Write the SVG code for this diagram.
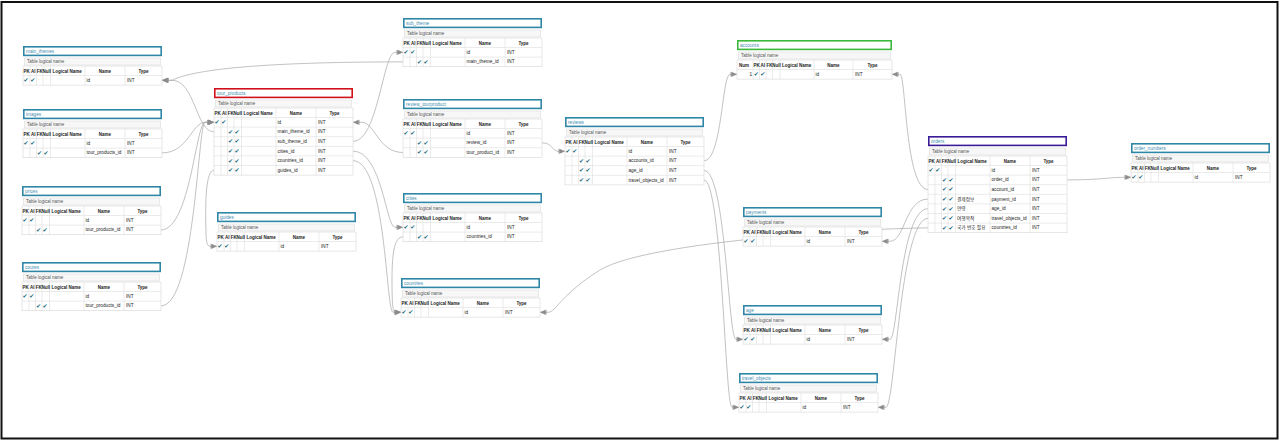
<svg xmlns="http://www.w3.org/2000/svg" width="1280" height="441" viewBox="0 0 1280 441">
<defs>
<style>
.tt{fill:#fff;stroke:#2f86a6;stroke-width:1.6}
.red{stroke:#d0111b}.grn{stroke:#3cb83c}.pur{stroke:#3a1a96}
.ttx{font-family:"Liberation Sans",Arial,sans-serif;font-size:4.7px;fill:#3f8db0}
.lb{fill:#f7f7f7;stroke:#dcdcdc;stroke-width:.6}
.lbx{font-family:"Liberation Sans",Arial,sans-serif;font-size:4.5px;fill:#555}
.bd{fill:#fff;stroke:#d6d6d6;stroke-width:.6}
.gl{fill:none;stroke:#dedede;stroke-width:.6}
.hd{font-family:"Liberation Sans",Arial,sans-serif;font-size:4.5px;font-weight:bold;fill:#222}
.c{font-family:"Liberation Sans","Noto Sans CJK KR",sans-serif;font-size:4.7px;fill:#222}
.ck{font-family:"DejaVu Sans",sans-serif;font-size:6px;fill:#1d6b80}
.cn{fill:none;stroke:#a8a8a8;stroke-width:.7}
</style>
<marker id="pk" viewBox="-8 -4 10 8" refX="0" refY="0" markerWidth="10" markerHeight="8" orient="auto" markerUnits="userSpaceOnUse">
<path d="M-6.2,-2.4V2.4M-5.4,-2.1L-0.6,0L-5.4,2.1Z" fill="#8a8a8a" stroke="#8a8a8a" stroke-width=".6"/>
</marker>
</defs>
<rect x="1.5" y="2" width="1276" height="436.5" fill="#fff" stroke="#111" stroke-width="2"/>

<g id="connectors">
<path class="cn" marker-end="url(#pk)" d="M403,61.9C300,61.9 200,66 172,80.3L162,80.3"/>
<path class="cn" marker-end="url(#pk)" d="M214,131.9C196,131.9 195,80.3 172,80.3L162,80.3"/>
<path class="cn" marker-end="url(#pk)" d="M162,152.9C188,152.9 192,122.3 205,122.3L214,122.3"/>
<path class="cn" marker-end="url(#pk)" d="M161,229.9C190,229.9 196,122.3 205,122.3L214,122.3"/>
<path class="cn" marker-end="url(#pk)" d="M161,305.9C195,305.9 198,122.3 205,122.3L214,122.3"/>
<path class="cn" marker-end="url(#pk)" d="M214,170.3C206,170.3 205,200 206,232C206,244 208,246.3 210,246.3L217,246.3"/>
<path class="cn" marker-end="url(#pk)" d="M353,141.5C378,141.5 383,52.3 395,52.3L403,52.3"/>
<path class="cn" marker-end="url(#pk)" d="M403,152.5C378,152.5 375,122.3 362,122.3L353,122.3"/>
<path class="cn" marker-end="url(#pk)" d="M353,151.1C382,151.1 386,227.3 395,227.3L403,227.3"/>
<path class="cn" marker-end="url(#pk)" d="M353,160.7C386,160.7 386,312.3 393,312.3L401,312.3"/>
<path class="cn" marker-end="url(#pk)" d="M403,236.9C395,236.9 392,250 392,280C392,305 393,312.3 395,312.3L401,312.3"/>
<path class="cn" marker-end="url(#pk)" d="M542,142.9C553,142.9 552,151.3 558,151.3L565,151.3"/>
<path class="cn" marker-end="url(#pk)" d="M704,160.9C722,160.9 722,74.3 730,74.3L737,74.3"/>
<path class="cn" marker-end="url(#pk)" d="M704,170.5C726,170.5 728,339.3 736,339.3L743,339.3"/>
<path class="cn" marker-end="url(#pk)" d="M704,180.1C722,180.1 725,407.3 732,407.3L739,407.3"/>
<path class="cn" marker-end="url(#pk)" d="M928,189.5C905,189.5 906,74.3 900,74.3L892,74.3"/>
<path class="cn" marker-end="url(#pk)" d="M928,199.1C905,199.1 905,241.3 890,241.3L882,241.3"/>
<path class="cn" marker-end="url(#pk)" d="M928,208.7C900,208.7 898,339.3 890,339.3L882,339.3"/>
<path class="cn" marker-end="url(#pk)" d="M928,218.3C900,218.3 895,407.3 886,407.3L878,407.3"/>
<path class="cn" marker-end="url(#pk)" d="M928,227.9C880,227.9 650,240 600,270C560,295 556,312.3 548,312.3L540,312.3"/>
<path class="cn" marker-end="url(#pk)" d="M1067,179.9C1100,179.9 1110,177.3 1124,177.3L1131,177.3"/>
</g>

<g id="main_themes" transform="translate(23,46)">
<rect class="tt" x="0.8" y="0.8" width="137.4" height="8.6"/><text class="ttx" x="3" y="6.8">main_themes</text>
<rect class="lb" x="1.5" y="12" width="136" height="7"/><text class="lbx" x="4" y="17">Table logical name</text>
<rect class="bd" x="0" y="20" width="139" height="19.1"/>
<path class="gl" d="M7 20V39.1M13.5 20V39.1M20 20V39.1M27.5 20V39.1M62 20V39.1M102 20V39.1M0 29.5H139"/>
<text class="hd" x="0.4" y="26.6">PK</text><text class="hd" x="7.9" y="26.6">AI</text><text class="hd" x="13.8" y="26.6">FK</text><text class="hd" x="19.6" y="26.6">Null</text><text class="hd" x="29.5" y="26.6">Logical Name</text><text class="hd" x="82" y="26.6" text-anchor="middle">Name</text><text class="hd" x="120.5" y="26.6" text-anchor="middle">Type</text>
<text class="ck" x="0.6" y="36.2">✔</text><text class="ck" x="7.3" y="36.2">✔</text><text class="c" x="63.5" y="35.8">id</text><text class="c" x="104" y="35.8">INT</text>
</g>

<g id="images" transform="translate(23,109)">
<rect class="tt" x="0.8" y="0.8" width="137.4" height="8.6"/><text class="ttx" x="3" y="6.8">images</text>
<rect class="lb" x="1.5" y="12" width="136" height="7"/><text class="lbx" x="4" y="17">Table logical name</text>
<rect class="bd" x="0" y="20" width="139" height="28.7"/>
<path class="gl" d="M7 20V48.7M13.5 20V48.7M20 20V48.7M27.5 20V48.7M62 20V48.7M102 20V48.7M0 29.5H139M0 39.1H139"/>
<text class="hd" x="0.4" y="26.6">PK</text><text class="hd" x="7.9" y="26.6">AI</text><text class="hd" x="13.8" y="26.6">FK</text><text class="hd" x="19.6" y="26.6">Null</text><text class="hd" x="29.5" y="26.6">Logical Name</text><text class="hd" x="82" y="26.6" text-anchor="middle">Name</text><text class="hd" x="120.5" y="26.6" text-anchor="middle">Type</text>
<text class="ck" x="0.6" y="36.2">✔</text><text class="ck" x="7.3" y="36.2">✔</text><text class="c" x="63.5" y="35.8">id</text><text class="c" x="104" y="35.8">INT</text>
<text class="ck" x="14" y="45.8">✔</text><text class="ck" x="20.6" y="45.8">✔</text><text class="c" x="63.5" y="45.4">tour_products_id</text><text class="c" x="104" y="45.4">INT</text>
</g>

<g id="prices" transform="translate(22,186)">
<rect class="tt" x="0.8" y="0.8" width="137.4" height="8.6"/><text class="ttx" x="3" y="6.8">prices</text>
<rect class="lb" x="1.5" y="12" width="136" height="7"/><text class="lbx" x="4" y="17">Table logical name</text>
<rect class="bd" x="0" y="20" width="139" height="28.7"/>
<path class="gl" d="M7 20V48.7M13.5 20V48.7M20 20V48.7M27.5 20V48.7M62 20V48.7M102 20V48.7M0 29.5H139M0 39.1H139"/>
<text class="hd" x="0.4" y="26.6">PK</text><text class="hd" x="7.9" y="26.6">AI</text><text class="hd" x="13.8" y="26.6">FK</text><text class="hd" x="19.6" y="26.6">Null</text><text class="hd" x="29.5" y="26.6">Logical Name</text><text class="hd" x="82" y="26.6" text-anchor="middle">Name</text><text class="hd" x="120.5" y="26.6" text-anchor="middle">Type</text>
<text class="ck" x="0.6" y="36.2">✔</text><text class="ck" x="7.3" y="36.2">✔</text><text class="c" x="63.5" y="35.8">id</text><text class="c" x="104" y="35.8">INT</text>
<text class="ck" x="14" y="45.8">✔</text><text class="ck" x="20.6" y="45.8">✔</text><text class="c" x="63.5" y="45.4">tour_products_id</text><text class="c" x="104" y="45.4">INT</text>
</g>

<g id="coures" transform="translate(22,262)">
<rect class="tt" x="0.8" y="0.8" width="137.4" height="8.6"/><text class="ttx" x="3" y="6.8">coures</text>
<rect class="lb" x="1.5" y="12" width="136" height="7"/><text class="lbx" x="4" y="17">Table logical name</text>
<rect class="bd" x="0" y="20" width="139" height="28.7"/>
<path class="gl" d="M7 20V48.7M13.5 20V48.7M20 20V48.7M27.5 20V48.7M62 20V48.7M102 20V48.7M0 29.5H139M0 39.1H139"/>
<text class="hd" x="0.4" y="26.6">PK</text><text class="hd" x="7.9" y="26.6">AI</text><text class="hd" x="13.8" y="26.6">FK</text><text class="hd" x="19.6" y="26.6">Null</text><text class="hd" x="29.5" y="26.6">Logical Name</text><text class="hd" x="82" y="26.6" text-anchor="middle">Name</text><text class="hd" x="120.5" y="26.6" text-anchor="middle">Type</text>
<text class="ck" x="0.6" y="36.2">✔</text><text class="ck" x="7.3" y="36.2">✔</text><text class="c" x="63.5" y="35.8">id</text><text class="c" x="104" y="35.8">INT</text>
<text class="ck" x="14" y="45.8">✔</text><text class="ck" x="20.6" y="45.8">✔</text><text class="c" x="63.5" y="45.4">tour_products_id</text><text class="c" x="104" y="45.4">INT</text>
</g>

<g id="tour_products" transform="translate(214,88)">
<rect class="tt red" x="0.8" y="0.8" width="137.4" height="8.6"/><text class="ttx" x="3" y="6.8">tour_products</text>
<rect class="lb" x="1.5" y="12" width="136" height="7"/><text class="lbx" x="4" y="17">Table logical name</text>
<rect class="bd" x="0" y="20" width="139" height="67.1"/>
<path class="gl" d="M7 20V87.1M13.5 20V87.1M20 20V87.1M27.5 20V87.1M62 20V87.1M102 20V87.1M0 29.5H139M0 39.1H139M0 48.7H139M0 58.3H139M0 67.9H139M0 77.5H139"/>
<text class="hd" x="0.4" y="26.6">PK</text><text class="hd" x="7.9" y="26.6">AI</text><text class="hd" x="13.8" y="26.6">FK</text><text class="hd" x="19.6" y="26.6">Null</text><text class="hd" x="29.5" y="26.6">Logical Name</text><text class="hd" x="82" y="26.6" text-anchor="middle">Name</text><text class="hd" x="120.5" y="26.6" text-anchor="middle">Type</text>
<text class="ck" x="0.6" y="36.2">✔</text><text class="ck" x="7.3" y="36.2">✔</text><text class="c" x="63.5" y="35.8">id</text><text class="c" x="104" y="35.8">INT</text>
<text class="ck" x="14" y="45.8">✔</text><text class="ck" x="20.6" y="45.8">✔</text><text class="c" x="63.5" y="45.4">main_theme_id</text><text class="c" x="104" y="45.4">INT</text>
<text class="ck" x="14" y="55.4">✔</text><text class="ck" x="20.6" y="55.4">✔</text><text class="c" x="63.5" y="55">sub_theme_id</text><text class="c" x="104" y="55">INT</text>
<text class="ck" x="14" y="65">✔</text><text class="ck" x="20.6" y="65">✔</text><text class="c" x="63.5" y="64.6">cities_id</text><text class="c" x="104" y="64.6">INT</text>
<text class="ck" x="14" y="74.6">✔</text><text class="ck" x="20.6" y="74.6">✔</text><text class="c" x="63.5" y="74.2">countries_id</text><text class="c" x="104" y="74.2">INT</text>
<text class="ck" x="14" y="84.2">✔</text><text class="ck" x="20.6" y="84.2">✔</text><text class="c" x="63.5" y="83.8">guides_id</text><text class="c" x="104" y="83.8">INT</text>
</g>

<g id="guides" transform="translate(217,212)">
<rect class="tt" x="0.8" y="0.8" width="137.4" height="8.6"/><text class="ttx" x="3" y="6.8">guides</text>
<rect class="lb" x="1.5" y="12" width="136" height="7"/><text class="lbx" x="4" y="17">Table logical name</text>
<rect class="bd" x="0" y="20" width="139" height="19.1"/>
<path class="gl" d="M7 20V39.1M13.5 20V39.1M20 20V39.1M27.5 20V39.1M62 20V39.1M102 20V39.1M0 29.5H139"/>
<text class="hd" x="0.4" y="26.6">PK</text><text class="hd" x="7.9" y="26.6">AI</text><text class="hd" x="13.8" y="26.6">FK</text><text class="hd" x="19.6" y="26.6">Null</text><text class="hd" x="29.5" y="26.6">Logical Name</text><text class="hd" x="82" y="26.6" text-anchor="middle">Name</text><text class="hd" x="120.5" y="26.6" text-anchor="middle">Type</text>
<text class="ck" x="0.6" y="36.2">✔</text><text class="ck" x="7.3" y="36.2">✔</text><text class="c" x="63.5" y="35.8">id</text><text class="c" x="104" y="35.8">INT</text>
</g>

<g id="sub_theme" transform="translate(403,18)">
<rect class="tt" x="0.8" y="0.8" width="137.4" height="8.6"/><text class="ttx" x="3" y="6.8">sub_theme</text>
<rect class="lb" x="1.5" y="12" width="136" height="7"/><text class="lbx" x="4" y="17">Table logical name</text>
<rect class="bd" x="0" y="20" width="139" height="28.7"/>
<path class="gl" d="M7 20V48.7M13.5 20V48.7M20 20V48.7M27.5 20V48.7M62 20V48.7M102 20V48.7M0 29.5H139M0 39.1H139"/>
<text class="hd" x="0.4" y="26.6">PK</text><text class="hd" x="7.9" y="26.6">AI</text><text class="hd" x="13.8" y="26.6">FK</text><text class="hd" x="19.6" y="26.6">Null</text><text class="hd" x="29.5" y="26.6">Logical Name</text><text class="hd" x="82" y="26.6" text-anchor="middle">Name</text><text class="hd" x="120.5" y="26.6" text-anchor="middle">Type</text>
<text class="ck" x="0.6" y="36.2">✔</text><text class="ck" x="7.3" y="36.2">✔</text><text class="c" x="63.5" y="35.8">id</text><text class="c" x="104" y="35.8">INT</text>
<text class="ck" x="14" y="45.8">✔</text><text class="ck" x="20.6" y="45.8">✔</text><text class="c" x="63.5" y="45.4">main_theme_id</text><text class="c" x="104" y="45.4">INT</text>
</g>

<g id="review_tourproduct" transform="translate(403,99)">
<rect class="tt" x="0.8" y="0.8" width="137.4" height="8.6"/><text class="ttx" x="3" y="6.8">review_tourproduct</text>
<rect class="lb" x="1.5" y="12" width="136" height="7"/><text class="lbx" x="4" y="17">Table logical name</text>
<rect class="bd" x="0" y="20" width="139" height="38.3"/>
<path class="gl" d="M7 20V58.3M13.5 20V58.3M20 20V58.3M27.5 20V58.3M62 20V58.3M102 20V58.3M0 29.5H139M0 39.1H139M0 48.7H139"/>
<text class="hd" x="0.4" y="26.6">PK</text><text class="hd" x="7.9" y="26.6">AI</text><text class="hd" x="13.8" y="26.6">FK</text><text class="hd" x="19.6" y="26.6">Null</text><text class="hd" x="29.5" y="26.6">Logical Name</text><text class="hd" x="82" y="26.6" text-anchor="middle">Name</text><text class="hd" x="120.5" y="26.6" text-anchor="middle">Type</text>
<text class="ck" x="0.6" y="36.2">✔</text><text class="ck" x="7.3" y="36.2">✔</text><text class="c" x="63.5" y="35.8">id</text><text class="c" x="104" y="35.8">INT</text>
<text class="ck" x="14" y="45.8">✔</text><text class="ck" x="20.6" y="45.8">✔</text><text class="c" x="63.5" y="45.4">review_id</text><text class="c" x="104" y="45.4">INT</text>
<text class="ck" x="14" y="55.4">✔</text><text class="ck" x="20.6" y="55.4">✔</text><text class="c" x="63.5" y="55">tour_product_id</text><text class="c" x="104" y="55">INT</text>
</g>

<g id="cities" transform="translate(403,193)">
<rect class="tt" x="0.8" y="0.8" width="137.4" height="8.6"/><text class="ttx" x="3" y="6.8">cities</text>
<rect class="lb" x="1.5" y="12" width="136" height="7"/><text class="lbx" x="4" y="17">Table logical name</text>
<rect class="bd" x="0" y="20" width="139" height="28.7"/>
<path class="gl" d="M7 20V48.7M13.5 20V48.7M20 20V48.7M27.5 20V48.7M62 20V48.7M102 20V48.7M0 29.5H139M0 39.1H139"/>
<text class="hd" x="0.4" y="26.6">PK</text><text class="hd" x="7.9" y="26.6">AI</text><text class="hd" x="13.8" y="26.6">FK</text><text class="hd" x="19.6" y="26.6">Null</text><text class="hd" x="29.5" y="26.6">Logical Name</text><text class="hd" x="82" y="26.6" text-anchor="middle">Name</text><text class="hd" x="120.5" y="26.6" text-anchor="middle">Type</text>
<text class="ck" x="0.6" y="36.2">✔</text><text class="ck" x="7.3" y="36.2">✔</text><text class="c" x="63.5" y="35.8">id</text><text class="c" x="104" y="35.8">INT</text>
<text class="ck" x="14" y="45.8">✔</text><text class="ck" x="20.6" y="45.8">✔</text><text class="c" x="63.5" y="45.4">countries_id</text><text class="c" x="104" y="45.4">INT</text>
</g>

<g id="countries" transform="translate(401,278)">
<rect class="tt" x="0.8" y="0.8" width="137.4" height="8.6"/><text class="ttx" x="3" y="6.8">countries</text>
<rect class="lb" x="1.5" y="12" width="136" height="7"/><text class="lbx" x="4" y="17">Table logical name</text>
<rect class="bd" x="0" y="20" width="139" height="19.1"/>
<path class="gl" d="M7 20V39.1M13.5 20V39.1M20 20V39.1M27.5 20V39.1M62 20V39.1M102 20V39.1M0 29.5H139"/>
<text class="hd" x="0.4" y="26.6">PK</text><text class="hd" x="7.9" y="26.6">AI</text><text class="hd" x="13.8" y="26.6">FK</text><text class="hd" x="19.6" y="26.6">Null</text><text class="hd" x="29.5" y="26.6">Logical Name</text><text class="hd" x="82" y="26.6" text-anchor="middle">Name</text><text class="hd" x="120.5" y="26.6" text-anchor="middle">Type</text>
<text class="ck" x="0.6" y="36.2">✔</text><text class="ck" x="7.3" y="36.2">✔</text><text class="c" x="63.5" y="35.8">id</text><text class="c" x="104" y="35.8">INT</text>
</g>

<g id="reviews" transform="translate(565,117)">
<rect class="tt" x="0.8" y="0.8" width="137.4" height="8.6"/><text class="ttx" x="3" y="6.8">reviews</text>
<rect class="lb" x="1.5" y="12" width="136" height="7"/><text class="lbx" x="4" y="17">Table logical name</text>
<rect class="bd" x="0" y="20" width="139" height="47.9"/>
<path class="gl" d="M7 20V67.9M13.5 20V67.9M20 20V67.9M27.5 20V67.9M62 20V67.9M102 20V67.9M0 29.5H139M0 39.1H139M0 48.7H139M0 58.3H139"/>
<text class="hd" x="0.4" y="26.6">PK</text><text class="hd" x="7.9" y="26.6">AI</text><text class="hd" x="13.8" y="26.6">FK</text><text class="hd" x="19.6" y="26.6">Null</text><text class="hd" x="29.5" y="26.6">Logical Name</text><text class="hd" x="82" y="26.6" text-anchor="middle">Name</text><text class="hd" x="120.5" y="26.6" text-anchor="middle">Type</text>
<text class="ck" x="0.6" y="36.2">✔</text><text class="ck" x="7.3" y="36.2">✔</text><text class="c" x="63.5" y="35.8">id</text><text class="c" x="104" y="35.8">INT</text>
<text class="ck" x="14" y="45.8">✔</text><text class="ck" x="20.6" y="45.8">✔</text><text class="c" x="63.5" y="45.4">accounts_id</text><text class="c" x="104" y="45.4">INT</text>
<text class="ck" x="14" y="55.4">✔</text><text class="ck" x="20.6" y="55.4">✔</text><text class="c" x="63.5" y="55">age_id</text><text class="c" x="104" y="55">INT</text>
<text class="ck" x="14" y="65">✔</text><text class="ck" x="20.6" y="65">✔</text><text class="c" x="63.5" y="64.6">travel_objects_id</text><text class="c" x="104" y="64.6">INT</text>
</g>

<g id="accounts" transform="translate(737,40)">
<rect class="tt grn" x="0.8" y="0.8" width="153.4" height="8.6"/><text class="ttx" x="3" y="6.8">accounts</text>
<rect class="lb" x="1.5" y="12" width="152" height="7"/><text class="lbx" x="4" y="17">Table logical name</text>
<rect class="bd" x="0" y="20" width="155" height="19.1"/>
<path class="gl" d="M16 20V39.1M22.5 20V39.1M29 20V39.1M35.5 20V39.1M43 20V39.1M77 20V39.1M116 20V39.1M0 29.5H155"/>
<text class="hd" x="2" y="26.6">Num</text><text class="hd" x="16.4" y="26.6">PK</text><text class="hd" x="23.6" y="26.6">AI</text><text class="hd" x="29.4" y="26.6">FK</text><text class="hd" x="35.3" y="26.6">Null</text><text class="hd" x="45" y="26.6">Logical Name</text><text class="hd" x="96.5" y="26.6" text-anchor="middle">Name</text><text class="hd" x="135.5" y="26.6" text-anchor="middle">Type</text>
<text class="c" x="15" y="35.8" text-anchor="end">1</text><text class="ck" x="16.8" y="36.2">✔</text><text class="ck" x="23.3" y="36.2">✔</text><text class="c" x="78.5" y="35.8">id</text><text class="c" x="118" y="35.8">INT</text>
</g>

<g id="payments" transform="translate(743,207)">
<rect class="tt" x="0.8" y="0.8" width="137.4" height="8.6"/><text class="ttx" x="3" y="6.8">payments</text>
<rect class="lb" x="1.5" y="12" width="136" height="7"/><text class="lbx" x="4" y="17">Table logical name</text>
<rect class="bd" x="0" y="20" width="139" height="19.1"/>
<path class="gl" d="M7 20V39.1M13.5 20V39.1M20 20V39.1M27.5 20V39.1M62 20V39.1M102 20V39.1M0 29.5H139"/>
<text class="hd" x="0.4" y="26.6">PK</text><text class="hd" x="7.9" y="26.6">AI</text><text class="hd" x="13.8" y="26.6">FK</text><text class="hd" x="19.6" y="26.6">Null</text><text class="hd" x="29.5" y="26.6">Logical Name</text><text class="hd" x="82" y="26.6" text-anchor="middle">Name</text><text class="hd" x="120.5" y="26.6" text-anchor="middle">Type</text>
<text class="ck" x="0.6" y="36.2">✔</text><text class="ck" x="7.3" y="36.2">✔</text><text class="c" x="63.5" y="35.8">id</text><text class="c" x="104" y="35.8">INT</text>
</g>

<g id="age" transform="translate(743,305)">
<rect class="tt" x="0.8" y="0.8" width="137.4" height="8.6"/><text class="ttx" x="3" y="6.8">age</text>
<rect class="lb" x="1.5" y="12" width="136" height="7"/><text class="lbx" x="4" y="17">Table logical name</text>
<rect class="bd" x="0" y="20" width="139" height="19.1"/>
<path class="gl" d="M7 20V39.1M13.5 20V39.1M20 20V39.1M27.5 20V39.1M62 20V39.1M102 20V39.1M0 29.5H139"/>
<text class="hd" x="0.4" y="26.6">PK</text><text class="hd" x="7.9" y="26.6">AI</text><text class="hd" x="13.8" y="26.6">FK</text><text class="hd" x="19.6" y="26.6">Null</text><text class="hd" x="29.5" y="26.6">Logical Name</text><text class="hd" x="82" y="26.6" text-anchor="middle">Name</text><text class="hd" x="120.5" y="26.6" text-anchor="middle">Type</text>
<text class="ck" x="0.6" y="36.2">✔</text><text class="ck" x="7.3" y="36.2">✔</text><text class="c" x="63.5" y="35.8">id</text><text class="c" x="104" y="35.8">INT</text>
</g>

<g id="travel_objects" transform="translate(739,373)">
<rect class="tt" x="0.8" y="0.8" width="137.4" height="8.6"/><text class="ttx" x="3" y="6.8">travel_objects</text>
<rect class="lb" x="1.5" y="12" width="136" height="7"/><text class="lbx" x="4" y="17">Table logical name</text>
<rect class="bd" x="0" y="20" width="139" height="19.1"/>
<path class="gl" d="M7 20V39.1M13.5 20V39.1M20 20V39.1M27.5 20V39.1M62 20V39.1M102 20V39.1M0 29.5H139"/>
<text class="hd" x="0.4" y="26.6">PK</text><text class="hd" x="7.9" y="26.6">AI</text><text class="hd" x="13.8" y="26.6">FK</text><text class="hd" x="19.6" y="26.6">Null</text><text class="hd" x="29.5" y="26.6">Logical Name</text><text class="hd" x="82" y="26.6" text-anchor="middle">Name</text><text class="hd" x="120.5" y="26.6" text-anchor="middle">Type</text>
<text class="ck" x="0.6" y="36.2">✔</text><text class="ck" x="7.3" y="36.2">✔</text><text class="c" x="63.5" y="35.8">id</text><text class="c" x="104" y="35.8">INT</text>
</g>

<g id="orders" transform="translate(928,136)">
<rect class="tt pur" x="0.8" y="0.8" width="137.4" height="8.6"/><text class="ttx" x="3" y="6.8">orders</text>
<rect class="lb" x="1.5" y="12" width="136" height="7"/><text class="lbx" x="4" y="17">Table logical name</text>
<rect class="bd" x="0" y="20" width="139" height="76.7"/>
<path class="gl" d="M7 20V96.7M13.5 20V96.7M20 20V96.7M27.5 20V96.7M62 20V96.7M102 20V96.7M0 29.5H139M0 39.1H139M0 48.7H139M0 58.3H139M0 67.9H139M0 77.5H139M0 87.1H139"/>
<text class="hd" x="0.4" y="26.6">PK</text><text class="hd" x="7.9" y="26.6">AI</text><text class="hd" x="13.8" y="26.6">FK</text><text class="hd" x="19.6" y="26.6">Null</text><text class="hd" x="29.5" y="26.6">Logical Name</text><text class="hd" x="82" y="26.6" text-anchor="middle">Name</text><text class="hd" x="120.5" y="26.6" text-anchor="middle">Type</text>
<text class="ck" x="0.6" y="36.2">✔</text><text class="ck" x="7.3" y="36.2">✔</text><text class="c" x="63.5" y="35.8">id</text><text class="c" x="104" y="35.8">INT</text>
<text class="ck" x="14" y="45.8">✔</text><text class="ck" x="20.6" y="45.8">✔</text><text class="c" x="63.5" y="45.4">order_id</text><text class="c" x="104" y="45.4">INT</text>
<text class="ck" x="14" y="55.4">✔</text><text class="ck" x="20.6" y="55.4">✔</text><text class="c" x="63.5" y="55">account_id</text><text class="c" x="104" y="55">INT</text>
<text class="ck" x="14" y="65">✔</text><text class="ck" x="20.6" y="65">✔</text><text class="c" x="29" y="64.6">결제정보</text><text class="c" x="63.5" y="64.6">payment_id</text><text class="c" x="104" y="64.6">INT</text>
<text class="ck" x="14" y="74.6">✔</text><text class="ck" x="20.6" y="74.6">✔</text><text class="c" x="29" y="74.2">연령</text><text class="c" x="63.5" y="74.2">age_id</text><text class="c" x="104" y="74.2">INT</text>
<text class="ck" x="14" y="84.2">✔</text><text class="ck" x="20.6" y="84.2">✔</text><text class="c" x="29" y="83.8">여행목적</text><text class="c" x="63.5" y="83.8">travel_objects_id</text><text class="c" x="104" y="83.8">INT</text>
<text class="ck" x="14" y="93.8">✔</text><text class="ck" x="20.6" y="93.8">✔</text><text class="c" x="29" y="93.4">국가 번호 필요</text><text class="c" x="63.5" y="93.4">countries_id</text><text class="c" x="104" y="93.4">INT</text>
</g>

<g id="order_numbers" transform="translate(1131,143)">
<rect class="tt" x="0.8" y="0.8" width="137.4" height="8.6"/><text class="ttx" x="3" y="6.8">order_numbers</text>
<rect class="lb" x="1.5" y="12" width="136" height="7"/><text class="lbx" x="4" y="17">Table logical name</text>
<rect class="bd" x="0" y="20" width="139" height="19.1"/>
<path class="gl" d="M7 20V39.1M13.5 20V39.1M20 20V39.1M27.5 20V39.1M62 20V39.1M102 20V39.1M0 29.5H139"/>
<text class="hd" x="0.4" y="26.6">PK</text><text class="hd" x="7.9" y="26.6">AI</text><text class="hd" x="13.8" y="26.6">FK</text><text class="hd" x="19.6" y="26.6">Null</text><text class="hd" x="29.5" y="26.6">Logical Name</text><text class="hd" x="82" y="26.6" text-anchor="middle">Name</text><text class="hd" x="120.5" y="26.6" text-anchor="middle">Type</text>
<text class="ck" x="0.6" y="36.2">✔</text><text class="ck" x="7.3" y="36.2">✔</text><text class="c" x="63.5" y="35.8">id</text><text class="c" x="104" y="35.8">INT</text>
</g>
</svg>
